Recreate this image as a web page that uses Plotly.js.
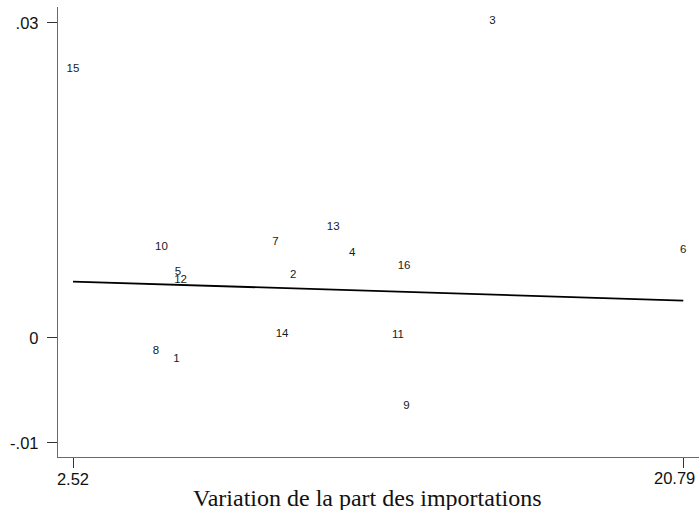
<!DOCTYPE html>
<html>
<head>
<meta charset="utf-8">
<script src="https://cdn.plot.ly/plotly-3.0.1.min.js"></script>
<style>html,body{margin:0;padding:0;background:#fff;}#chart{width:699px;height:510px;}</style>
</head>
<body>
<div id="chart"></div>
<script>
const obsLabels = ['1','2','3','4','5','6','7','8','9','10','11','12','13','14','15','16'];
const importShareChange = [5.62, 9.11, 15.08, 10.88, 5.66, 20.79, 8.58, 5.00, 12.50, 5.17, 12.25, 5.74, 10.31, 8.78, 2.52, 12.43];
const residualValue = [-0.00203, 0.00597, 0.03016, 0.00804, 0.00629, 0.00835, 0.00914, -0.00124, -0.00648, 0.00867, 0.00026, 0.00550, 0.01057, 0.00035, 0.02556, 0.00686];

// Fitted line end points
const fitX = [2.52, 20.79];
const fitY = [0.00535, 0.00354];

// Tick labels
const xTickVals = [2.52, 20.79];
const xTickText = ['2.52', ''];
const xLastTickLabel = '20.79';
const yTickVals = [-0.01, 0, 0.03];
const yTickText = ['-.01', '0', '.03'];
const xTitle = 'Variation de la part des importations';

const traces = [
  {
    x: importShareChange, y: residualValue, text: obsLabels,
    type: 'scatter', mode: 'text', textposition: 'middle center',
    textfont: {family: 'Liberation Sans, Arial, sans-serif', size: 11.5, color: '#1a1a1a'},
    showlegend: false, hoverinfo: 'skip', cliponaxis: false
  },
  {
    x: fitX, y: fitY, type: 'scatter', mode: 'lines',
    line: {color: '#000', width: 1.8}, showlegend: false, hoverinfo: 'skip'
  }
];

const tickFont = {family: 'Liberation Sans, Arial, sans-serif', size: 16.5, color: '#111'};

const layout = {
  width: 699, height: 510,
  margin: {l: 58, r: 0, t: 7, b: 53, pad: 0},
  paper_bgcolor: '#fff', plot_bgcolor: '#fff',
  font: {family: 'Liberation Sans, Arial, sans-serif', color: '#000'},
  showlegend: false,
  xaxis: {
    range: [2.071, 21.26], showgrid: false, zeroline: false,
    showline: true, linecolor: '#6a6a6a', linewidth: 1.2,
    ticks: 'outside', ticklen: 10, tickwidth: 1, tickcolor: '#333',
    tickmode: 'array', tickvals: xTickVals, ticktext: xTickText,
    ticklabelstandoff: -3,
    tickfont: tickFont
  },
  yaxis: {
    range: [-0.01136, 0.0315], showgrid: false, zeroline: false,
    showline: true, linecolor: '#6a6a6a', linewidth: 1.2,
    ticks: 'outside', ticklen: 10, tickwidth: 1, tickcolor: '#333',
    tickmode: 'array', tickvals: yTickVals, ticktext: yTickText,
    ticklabelstandoff: 5,
    tickfont: tickFont
  },
  annotations: [
    {
      text: xLastTickLabel, xref: 'x', yref: 'paper',
      x: xTickVals[1], y: -0.0467, xanchor: 'right', yanchor: 'middle', xshift: 14,
      showarrow: false, font: tickFont
    },
    {
      text: xTitle, xref: 'paper', yref: 'paper',
      x: 0.4828, y: -0.091, xanchor: 'center', yanchor: 'middle', showarrow: false,
      font: {family: 'Liberation Serif, Times New Roman, serif', size: 24, color: '#111'}
    }
  ]
};

Plotly.newPlot('chart', traces, layout, {staticPlot: true, displayModeBar: false});
</script>
</body>
</html>
